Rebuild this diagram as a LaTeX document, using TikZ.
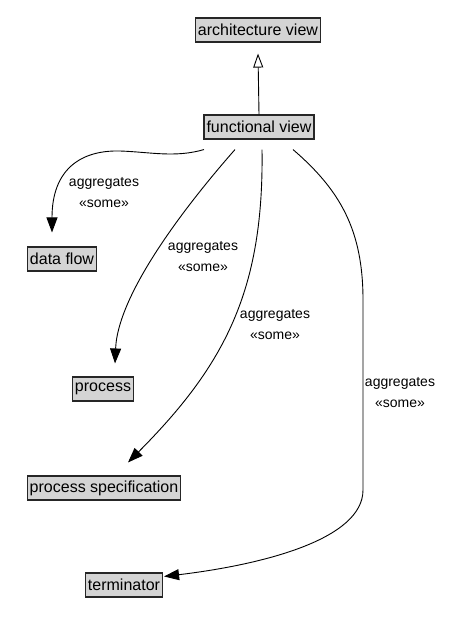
\documentclass[tikz,border=0pt]{standalone}
\usepackage{fontspec}
\setmainfont{Liberation Sans}
\usetikzlibrary{arrows.meta}
\begin{document}
\begin{tikzpicture}[x=1pt,y=-1pt,
  box/.style={draw=black!85,line width=1.1pt,fill=black!17,inner xsep=2.5pt,inner ysep=0pt,
    minimum height=24pt,font=\fontsize{16}{18}\selectfont},
  agg/.style={-{Triangle[length=15pt,width=11pt]},line width=0.9pt},
  gen/.style={-{Triangle[open,length=14pt,width=10pt]},line width=0.9pt},
  lbl/.style={align=center,font=\fontsize{14}{21}\selectfont,inner sep=0pt}]
\useasboundingbox (0,0) rectangle (449,636);
\node[box] (av) at (258,30) {architecture view};
\node[box] (fv) at (259,127) {functional view};
\node[box] (df) at (62,259) {data flow};
\node[box] (pr) at (103,389) {process};
\node[box] (ps) at (104,488) {process specification};
\node[box] (te) at (124,585) {terminator};

\draw[gen] (fv.north) -- ([yshift=-11pt]av.south);

\draw[agg] ([xshift=-55pt,yshift=-10pt]fv.south) .. controls (175,158) and (150,152) .. (120,151)
  .. controls (80,150) and (52,170) .. ([xshift=-10pt,yshift=14pt]df.north);
\draw[agg] ([xshift=-24pt,yshift=-10pt]fv.south) .. controls (195,195) and (118,290) .. ([xshift=12pt,yshift=13pt]pr.north);
\draw[agg] ([xshift=3pt,yshift=-10pt]fv.south) .. controls (264,290) and (225,365) .. ([xshift=24pt,yshift=13pt]ps.north);
\draw[agg] ([xshift=34pt,yshift=-10pt]fv.south) .. controls (340,190) and (363,230) .. (363,300)
  -- (363,490) .. controls (363,540) and (260,565) .. ([xshift=1pt,yshift=-4pt]te.north east);

\node[lbl] (l1) at (104,193) {aggregates\\«some»};
\node[lbl] (l2) at (203,257) {aggregates\\«some»};
\node[lbl] (l3) at (275,325) {aggregates\\«some»};
\node[lbl] (l4) at (400,393) {aggregates\\«some»};
\end{tikzpicture}
\end{document}
